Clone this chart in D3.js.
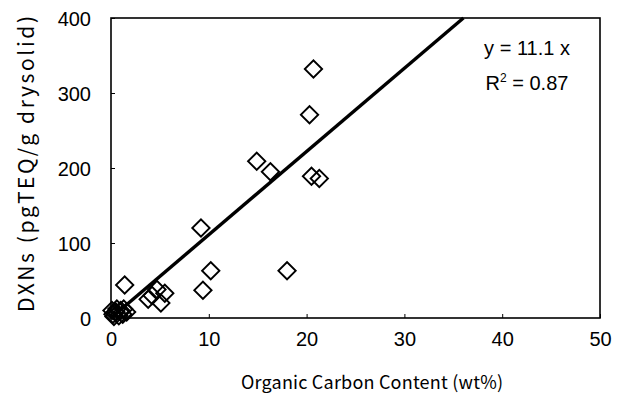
<!DOCTYPE html>
<html>
<head>
<meta charset="utf-8">
<script src="https://cdn.jsdelivr.net/npm/d3@7"></script>
<style>
  body { margin: 0; background: #fff; }
  svg { display: block; }
  .tick text { font-family: "Liberation Sans", Arial, sans-serif; font-size: 20px; fill: #000; }
  .axis-title { font-family: "Noto Sans CJK JP", sans-serif; fill: #000; }
</style>
</head>
<body>
<div id="chart"></div>
<script>
// organic carbon (wt%) vs DXNs (pgTEQ/g drysolid)
const carbon = [20.7, 20.3, 14.9, 16.3, 20.5, 21.3, 9.2, 10.2, 18.0, 9.4, 1.4,
  4.7, 5.5, 3.8, 5.1, 4.2, 0.2, 0.5, 0.8, 1.0, 1.3, 1.6, 0.3, 0.6, 1.2, 0.1];
const dxns = [332, 271, 209, 195, 189, 186, 120, 63, 63, 37, 44,
  38, 33, 25, 20, 30, 5, 8, 3, 10, 12, 8, 2, 12, 5, 10];
const xTicks = [0, 10, 20, 30, 40, 50];
const yTicks = [0, 100, 200, 300, 400];
const slope = 11.1;

const w = 622;
const h = 394;
const padding = { top: 18, bottom: 76, right: 22, left: 111 };

const xScale = d3.scaleLinear().domain([0, 50]).range([padding.left, w - padding.right]);
const yScale = d3.scaleLinear().domain([0, 400]).range([h - padding.bottom, padding.top]);

const svg = d3.select('#chart').append('svg').attr('width', w).attr('height', h);

const xAxis = d3.axisBottom(xScale).tickValues(xTicks).tickSize(-4).tickPadding(14);
const yAxis = d3.axisLeft(yScale).tickValues(yTicks).tickSize(-4).tickPadding(20);

svg.append('g')
  .attr('transform', 'translate(0,' + (h - padding.bottom) + ')')
  .call(xAxis)
  .call(g => g.select('.domain').remove())
  .call(g => g.selectAll('.tick line').attr('stroke', '#000'));

svg.append('g')
  .attr('transform', 'translate(' + padding.left + ',0)')
  .call(yAxis)
  .call(g => g.select('.domain').remove())
  .call(g => g.selectAll('.tick line').attr('stroke', '#000'))
  .call(g => g.selectAll('.tick text').attr('dy', '0.36em'));

// plot frame
svg.append('rect')
  .attr('x', xScale(0)).attr('y', yScale(400))
  .attr('width', xScale(50) - xScale(0))
  .attr('height', yScale(0) - yScale(400))
  .attr('fill', 'none').attr('stroke', '#000').attr('stroke-width', 1.6);

// regression line, clipped at the top of the plot
const xEnd = 400 / slope;
svg.append('line')
  .attr('x1', xScale(0)).attr('y1', yScale(0))
  .attr('x2', xScale(xEnd)).attr('y2', yScale(slope * xEnd))
  .attr('stroke', '#000').attr('stroke-width', 3.4);

// diamonds
const diamond = d3.symbol().type(d3.symbolSquare).size(150);
svg.selectAll('.pt')
  .data(carbon)
  .enter()
  .append('path')
  .attr('class', 'pt')
  .attr('d', diamond)
  .attr('transform', (d, i) => 'translate(' + xScale(d) + ',' + yScale(dxns[i]) + ') rotate(45)')
  .attr('fill', 'none')
  .attr('stroke', '#000')
  .attr('stroke-width', 1.9);

// equation
const eq = svg.append('g').attr('font-family', '"Liberation Sans", Arial, sans-serif')
  .attr('font-size', 20).attr('text-anchor', 'middle');
eq.append('text').attr('x', 527).attr('y', 55).text('y = 11.1 x');
const r2 = eq.append('text').attr('x', 527).attr('y', 90);
r2.append('tspan').text('R');
r2.append('tspan').attr('dy', -8).attr('font-size', 12).text('2');
r2.append('tspan').attr('dy', 8).text(' = 0.87');

// axis titles
svg.append('text')
  .attr('class', 'axis-title')
  .attr('font-size', 18)
  .attr('x', 372).attr('y', 389)
  .attr('text-anchor', 'middle')
  .attr('textLength', 262).attr('lengthAdjust', 'spacing')
  .text('Organic Carbon Content (wt%)');

svg.append('text')
  .attr('class', 'axis-title')
  .attr('font-size', 21)
  .attr('transform', 'translate(34,164) rotate(-90)')
  .attr('text-anchor', 'middle')
  .attr('textLength', 296).attr('lengthAdjust', 'spacing')
  .text('DXNs (pgTEQ/g drysolid)');
</script>
</body>
</html>
